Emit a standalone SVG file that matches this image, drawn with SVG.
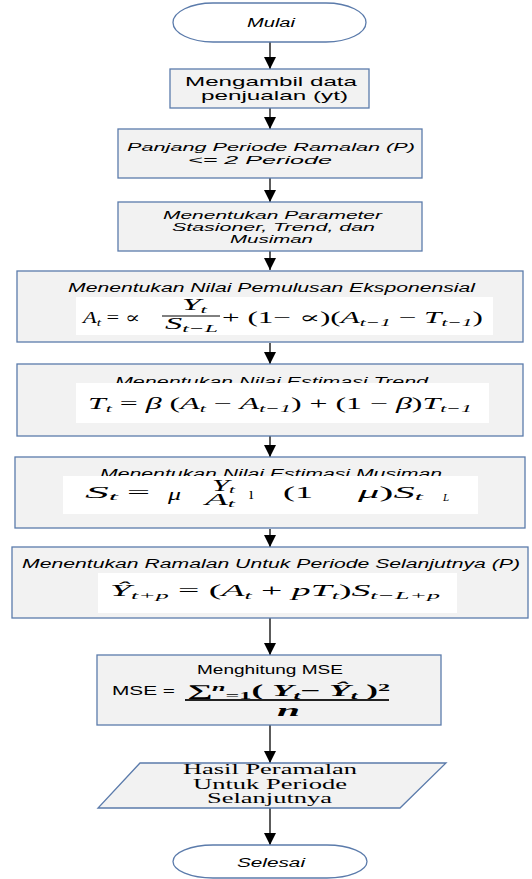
<svg xmlns="http://www.w3.org/2000/svg" width="532" height="879" viewBox="0 0 532 879">
<style>
.bx{fill:#f2f2f2;stroke:#5b7bab;stroke-width:1.3}
.term{fill:#ffffff;stroke:#5b7bab;stroke-width:1.3}
.wh{fill:#ffffff;stroke:none}
.it{font-family:"Liberation Sans",Arial,sans-serif;font-style:italic;font-size:12px;fill:#000}
.it2{font-family:"Liberation Sans",Arial,sans-serif;font-style:italic;font-size:11px;fill:#000}
.up{font-family:"Liberation Sans",Arial,sans-serif;font-size:13px;fill:#000}
.tm{font-family:"Liberation Serif","Times New Roman",serif;font-size:14px;fill:#000}
.f{font-family:"Liberation Serif","DejaVu Serif",serif;font-size:16px;fill:#000}
.fi{font-style:italic}
.sb{font-size:11px}
.conn line{stroke:#333;stroke-width:1.6}
</style>
<defs>
<marker id="ah" viewBox="0 0 12 12" refX="12" refY="6" markerWidth="12" markerHeight="12" markerUnits="userSpaceOnUse" orient="auto">
<path d="M0,0 L12,6 L0,12 z" fill="#000"/>
</marker>
</defs>

<g id="connectors" class="conn">
<line x1="270" y1="42" x2="270" y2="69" marker-end="url(#ah)"/>
<line x1="270" y1="108" x2="270" y2="129" marker-end="url(#ah)"/>
<line x1="270" y1="178" x2="270" y2="202" marker-end="url(#ah)"/>
<line x1="270" y1="251" x2="270" y2="270" marker-end="url(#ah)"/>
<line x1="270" y1="343" x2="270" y2="364" marker-end="url(#ah)"/>
<line x1="270" y1="436" x2="270" y2="457" marker-end="url(#ah)"/>
<line x1="270" y1="529" x2="270" y2="547" marker-end="url(#ah)"/>
<line x1="270" y1="618" x2="270" y2="655" marker-end="url(#ah)"/>
<line x1="270" y1="725" x2="270" y2="763" marker-end="url(#ah)"/>
<line x1="270" y1="808" x2="270" y2="845" marker-end="url(#ah)"/>
</g>

<g id="mulai">
<rect class="term" x="173" y="3" width="193" height="39" rx="40" ry="19.5"/>
<text class="it" x="247" y="27" font-size="11" textLength="48" lengthAdjust="spacingAndGlyphs">Mulai</text>
</g>

<g id="ambil">
<rect class="bx" x="170" y="69" width="199" height="39"/>
<text class="up" x="185" y="86" textLength="172" lengthAdjust="spacingAndGlyphs">Mengambil data</text>
<text class="up" x="201" y="100" textLength="147" lengthAdjust="spacingAndGlyphs">penjualan (yt)</text>
</g>

<g id="panjang">
<rect class="bx" x="118" y="129" width="304" height="49"/>
<text class="it2" x="127" y="151" textLength="288" lengthAdjust="spacingAndGlyphs">Panjang Periode Ramalan (P)</text>
<text class="it2" x="188" y="164" textLength="144" lengthAdjust="spacingAndGlyphs">&lt;= 2 Periode</text>
</g>

<g id="parameter">
<rect class="bx" x="118" y="202" width="304" height="49"/>
<text class="it2" x="163" y="219" textLength="219" lengthAdjust="spacingAndGlyphs">Menentukan Parameter</text>
<text class="it2" x="172" y="231" textLength="203" lengthAdjust="spacingAndGlyphs">Stasioner, Trend, dan</text>
<text class="it2" x="230" y="243" textLength="83" lengthAdjust="spacingAndGlyphs">Musiman</text>
</g>

<g id="pemulusan">
<rect class="bx" x="17" y="271" width="506" height="71"/>
<text class="it" x="68" y="292" textLength="407" lengthAdjust="spacingAndGlyphs">Menentukan Nilai Pemulusan Eksponensial</text>
<rect class="wh" x="76" y="297" width="417" height="38"/>
<text class="f" x="83" y="323" font-size="17" textLength="57" lengthAdjust="spacingAndGlyphs"><tspan class="fi">A</tspan><tspan class="sb fi" dy="3">t</tspan><tspan dy="-3"> = ∝</tspan></text>
<text class="f" x="182" y="310" font-size="14" textLength="25" lengthAdjust="spacingAndGlyphs"><tspan class="fi">Y</tspan><tspan class="sb fi" dy="3">t</tspan></text>
<line x1="162" y1="316" x2="220" y2="316" stroke="#000" stroke-width="1"/>
<text class="f" x="165" y="329" font-size="14" textLength="53" lengthAdjust="spacingAndGlyphs"><tspan class="fi">S</tspan><tspan class="sb fi" dy="3">t−L</tspan></text>
<text class="f" x="222" y="323" textLength="261" lengthAdjust="spacingAndGlyphs">+ (1− ∝)(<tspan class="fi">A</tspan><tspan class="sb fi" dy="3">t−1</tspan><tspan dy="-3"> − </tspan><tspan class="fi">T</tspan><tspan class="sb fi" dy="3">t−1</tspan><tspan dy="-3">)</tspan></text>
</g>

<g id="trend">
<rect class="bx" x="17" y="364" width="506" height="72"/>
<text class="it" x="115" y="386" textLength="313" lengthAdjust="spacingAndGlyphs">Menentukan Nilai Estimasi Trend</text>
<rect class="wh" x="76" y="383" width="413" height="40"/>
<text class="f" x="88" y="409" textLength="384" lengthAdjust="spacingAndGlyphs"><tspan class="fi">T</tspan><tspan class="sb fi" dy="3">t</tspan><tspan dy="-3"> =  </tspan><tspan class="fi">β</tspan> (<tspan class="fi">A</tspan><tspan class="sb fi" dy="3">t</tspan><tspan dy="-3"> − </tspan><tspan class="fi">A</tspan><tspan class="sb fi" dy="3">t−1</tspan><tspan dy="-3">) + (1 − </tspan><tspan class="fi">β</tspan>)<tspan class="fi">T</tspan><tspan class="sb fi" dy="3">t−1</tspan></text>
</g>

<g id="musiman">
<rect class="bx" x="15" y="457" width="510" height="71"/>
<text class="it" x="100" y="478" textLength="342" lengthAdjust="spacingAndGlyphs">Menentukan Nilai Estimasi Musiman</text>
<rect class="wh" x="63" y="476" width="415" height="38"/>
<text class="f" x="85" y="498" textLength="33" lengthAdjust="spacingAndGlyphs"><tspan class="fi">S</tspan><tspan class="sb fi" dy="2">t</tspan></text>
<text class="f" x="127" y="498" textLength="23" lengthAdjust="spacingAndGlyphs">=</text>
<text class="f fi" x="168" y="500" textLength="13" lengthAdjust="spacingAndGlyphs">μ</text>
<text class="f" x="212" y="491" font-size="12" textLength="23" lengthAdjust="spacingAndGlyphs"><tspan class="fi">Y</tspan><tspan class="sb fi" dy="2">t</tspan></text>
<text class="f" x="205" y="505" font-size="12" textLength="30" lengthAdjust="spacingAndGlyphs"><tspan class="fi">A</tspan><tspan class="sb fi" dy="2">t</tspan></text>
<text class="f" x="249" y="499">ı</text>
<text class="f" x="283" y="498" textLength="30" lengthAdjust="spacingAndGlyphs">(1</text>
<text class="f" x="358" y="498" textLength="65" lengthAdjust="spacingAndGlyphs"><tspan class="fi">μ</tspan>)<tspan class="fi">S</tspan><tspan class="sb fi" dy="2">t</tspan></text>
<text class="f fi sb" x="443" y="501">L</text>
</g>

<g id="ramalan">
<rect class="bx" x="12" y="547" width="516" height="71"/>
<text class="it" x="22" y="568" textLength="498" lengthAdjust="spacingAndGlyphs">Menentukan Ramalan Untuk Periode Selanjutnya (P)</text>
<rect class="wh" x="98" y="573" width="359" height="40"/>
<text class="f" x="110" y="596" font-size="17" textLength="330" lengthAdjust="spacingAndGlyphs"><tspan class="fi">Ŷ</tspan><tspan class="sb fi" dy="3">t+p</tspan><tspan dy="-3"> = (</tspan><tspan class="fi">A</tspan><tspan class="sb fi" dy="3">t</tspan><tspan dy="-3"> + </tspan><tspan class="fi">pT</tspan><tspan class="sb fi" dy="3">t</tspan><tspan dy="-3">)</tspan><tspan class="fi">S</tspan><tspan class="sb fi" dy="3">t−L+p</tspan></text>
</g>

<g id="mse">
<rect class="bx" x="97" y="655" width="344" height="70"/>
<text class="up" x="197" y="674" font-size="11" textLength="146" lengthAdjust="spacingAndGlyphs">Menghitung MSE</text>
<text class="up" x="112" y="695" font-size="14" textLength="63" lengthAdjust="spacingAndGlyphs">MSE =</text>
<text class="f" x="187" y="696" font-size="13" font-weight="bold" fill="#1f2f55" textLength="203" lengthAdjust="spacingAndGlyphs">∑<tspan class="sb fi" dy="-5">n</tspan><tspan class="sb" dy="8">=1</tspan><tspan dy="-3">( </tspan><tspan class="fi">Y</tspan><tspan class="sb fi" dy="3">t</tspan><tspan dy="-3">− </tspan><tspan class="fi">Ŷ</tspan><tspan class="sb fi" dy="3">t</tspan><tspan dy="-3"> )</tspan><tspan class="sb" dy="-5">2</tspan></text>
<line x1="185" y1="700" x2="389" y2="700" stroke="#222" stroke-width="1.8"/>
<text class="f fi" x="277" y="716" font-size="12" font-weight="bold" fill="#1f2f55" textLength="23" lengthAdjust="spacingAndGlyphs">n</text>
</g>

<g id="hasil">
<polygon class="bx" points="140,763 446,763 400,808 98,808"/>
<text class="tm" x="183" y="774" textLength="174" lengthAdjust="spacingAndGlyphs">Hasil Peramalan</text>
<text class="tm" x="193" y="789" textLength="154" lengthAdjust="spacingAndGlyphs">Untuk Periode</text>
<text class="tm" x="207" y="803" textLength="125" lengthAdjust="spacingAndGlyphs">Selanjutnya</text>
</g>

<g id="selesai">
<rect class="term" x="173" y="845" width="194" height="33" rx="40" ry="16.5"/>
<text class="it" x="237" y="867" font-size="11" textLength="68" lengthAdjust="spacingAndGlyphs">Selesai</text>
</g>
</svg>
